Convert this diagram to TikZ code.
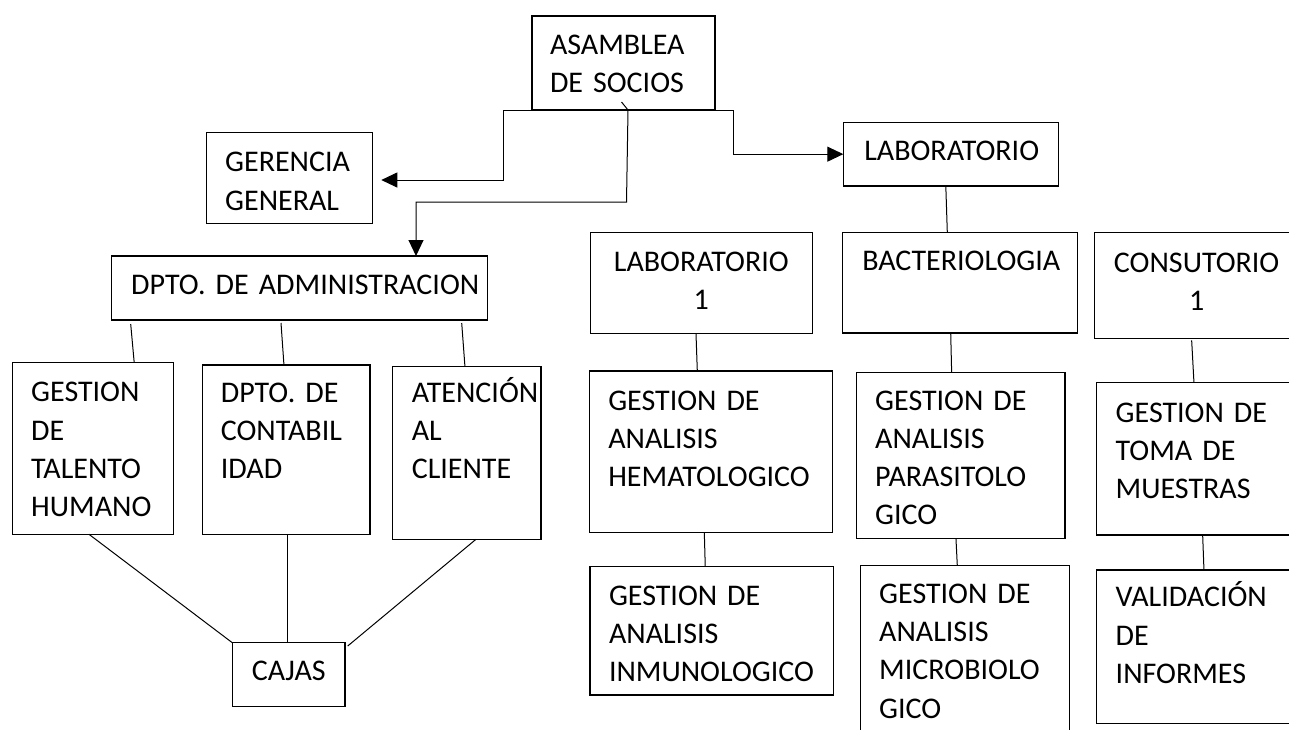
\documentclass[tikz,border=0pt]{standalone}
\usepackage{fontspec}
\setmainfont{Carlito}
\usetikzlibrary{arrows.meta}
\hyphenpenalty=10000
\tikzset{
	>={Triangle[length=16pt,width=15pt]},
	caja/.style={
		rectangle,
		draw=black, line width=1.1pt,
		anchor=north west,
		inner ysep=0pt,
		outer sep=0pt,
		align=left,
		font=\fontsize{30pt}{38.3pt}\selectfont},
	centrada/.style={caja, align=center},
	linea/.style={draw, line width=1pt},
	flecha/.style={linea, ->},
}
\begin{document}
\begin{tikzpicture}[x=1pt, y=-1pt]
	\useasboundingbox (0,0) rectangle (1289,729);
	\clip (0,0) rectangle (1289,729);
	% izquierda
	\node[caja, inner xsep=18pt, text width=147pt, text height=38pt, text depth=56pt] (asamblea) at (532,16) {ASAMBLEA\\DE~SOCIOS};
	\node[caja, inner xsep=18.5pt, text width=128.6pt, text height=39pt, text depth=51.6pt] (gerencia) at (206.7,132.7) {GERENCIA\\GENERAL};
	\node[caja, inner xsep=19.5pt, text width=336.6pt, text height=38pt, text depth=26pt] (admin) at (111.7,256) {DPTO.~DE~ADMINISTRACION};
	\node[caja, inner xsep=18.5pt, text width=124pt, text height=39pt, text depth=132.6pt] (talento) at (12.7,362.7) {GESTION\\DE\\TALENTO\\HUMANO};
	\node[caja, inner xsep=18.5pt, text width=130.7pt, text height=37pt, text depth=132.3pt] (contab) at (202.3,365) {DPTO.~DE\\CONTABIL\\IDAD};
	\node[caja, inner xsep=19.5pt, text width=109.7pt, text height=35.3pt, text depth=137.3pt] (atencion) at (392.3,366.7) {ATENCIÓN\\AL\\CLIENTE};
	\node[caja, inner xsep=19.5pt, text width=73.7pt, text height=38pt, text depth=26pt] (cajas) at (232.3,642.7) {CAJAS};
	% derecha
	\node[caja, inner xsep=21pt, text width=173pt, text height=37.7pt, text depth=26pt] (laboratorio) at (843.3,122.3) {LABORATORIO};
	\node[centrada, inner xsep=10pt, text width=202pt, text height=38.7pt, text depth=62.7pt] (lab1) at (590.3,232.3) {LABORATORIO\\1};
	\node[caja, inner xsep=20pt, text width=195pt, text height=37.7pt, text depth=63pt] (bacterio) at (842.3,232.3) {BACTERIOLOGIA};
	\node[centrada, inner xsep=10pt, text width=184.7pt, text height=40pt, text depth=66pt] (consul) at (1094.3,232.3) {CONSUTORIO\\1};
	\node[caja, inner xsep=19pt, text width=205pt, text height=39pt, text depth=122.3pt] (hemato) at (589.3,371) {GESTION~DE\\ANALISIS\\HEMATOLOGICO};
	\node[caja, inner xsep=18.5pt, text width=171.3pt, text height=37.3pt, text depth=128.3pt] (parasito) at (856.7,372.7) {GESTION~DE\\ANALISIS\\PARASITOLO\\GICO};
	\node[caja, inner xsep=19pt, text width=166.3pt, text height=39.6pt, text depth=112.7pt] (toma) at (1096.7,382.7) {GESTION~DE\\TOMA~DE\\MUESTRAS};
	\node[caja, inner xsep=19pt, text width=205.3pt, text height=38.3pt, text depth=90pt] (inmuno) at (590,566.7) {GESTION~DE\\ANALISIS\\INMUNOLOGICO};
	\node[caja, inner xsep=18.5pt, text width=171.6pt, text height=37.6pt, text depth=136.7pt] (microbio) at (860.7,565.7) {GESTION~DE\\ANALISIS\\MICROBIOLO\\GICO};
	\node[caja, inner xsep=19pt, text width=166.3pt, text height=36.7pt, text depth=116.6pt] (validacion) at (1096.7,570) {VALIDACIÓN\\DE\\INFORMES};
	% flechas
	\draw[flecha] (asamblea.south west) -- ++(-29,0) |- ([xshift=9pt,yshift=-2pt]gerencia.east);
	\draw[flecha] ([shift={(-2,-8)}]asamblea.south) -- ([xshift=4.5pt]asamblea.south) -- ++(-1.5,92) -| ([xshift=116.5pt]admin.north);
	\draw[flecha] (asamblea.south east) -- ++(18,0) |- (laboratorio.west);
	% lineas
	\draw[linea] ([shift={(19,4)}]admin.south west) -- ([xshift=41pt]talento.north);
	\draw[linea] ([shift={(-18.5,3)}]admin.south) -- ([xshift=-2.2pt]contab.north);
	\draw[linea] ([shift={(-25.6,3)}]admin.south east) -- ([xshift=-1.7pt]atencion.north);
	\draw[linea] ([xshift=-4.2pt]talento.south) -- (cajas.north west);
	\draw[linea] ([xshift=1.5pt]contab.south) -- ([xshift=-1pt]cajas.north);
	\draw[linea] ([xshift=9.3pt]atencion.south) -- ([shift={(2.7,3.3)}]cajas.north east);
	\draw[linea] ([xshift=-5pt]laboratorio.south) -- ([xshift=-12.5pt]bacterio.north);
	\draw[linea] ([xshift=-5.3pt]lab1.south) -- ([xshift=-13.5pt]hemato.north);
	\draw[linea] ([xshift=-6.5pt]hemato.south) -- ([xshift=-6.4pt]inmuno.north);
	\draw[linea] ([xshift=-9.1pt]bacterio.south) -- ([xshift=-9.2pt]parasito.north);
	\draw[linea] ([xshift=-4.9pt]parasito.south) -- ([xshift=-7.7pt]microbio.north);
	\draw[linea] ([shift={(-5,2)}]consul.south) -- ([xshift=-4.9pt]toma.north);
	\draw[linea] ([xshift=3.8pt]toma.south) -- ([xshift=5.1pt]validacion.north);
\end{tikzpicture}
\end{document}
